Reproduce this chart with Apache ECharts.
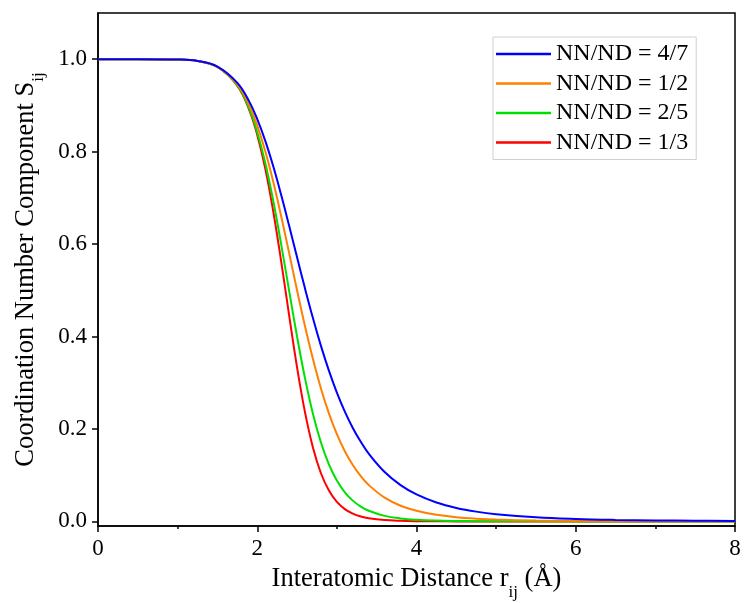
<!DOCTYPE html>
<html>
<head>
<meta charset="utf-8">
<script src="https://cdn.jsdelivr.net/npm/echarts@6/dist/echarts.min.js"></script>
<style>html,body{margin:0;padding:0;background:#fff}#c{width:744px;height:603px}</style>
</head>
<body>
<div id="c"></div>
<script>
var rVals = [0, 0.5, 1.0, 1.25, 1.5, 1.75, 1.9, 2.0, 2.1, 2.2, 2.3, 2.4, 2.5, 2.6, 2.7, 2.8, 2.9, 3.0, 3.1, 3.2, 3.3, 3.4, 3.6, 3.8, 4.0, 4.25, 4.5, 4.75, 5.0, 5.5, 6.0, 6.5, 7.0, 7.5, 8.0];
var s47 = [1, 1, 0.9993, 0.9962, 0.9840, 0.9488, 0.9082, 0.8705, 0.8239, 0.7688, 0.7067, 0.6400, 0.5714, 0.5037, 0.4393, 0.3797, 0.3261, 0.2787, 0.2376, 0.2022, 0.1721, 0.1465, 0.1067, 0.0785, 0.0583, 0.0409, 0.0291, 0.0211, 0.0156, 0.0088, 0.0052, 0.0032, 0.0021, 0.0014, 0.0009];
var s12 = [1, 1, 0.9993, 0.9961, 0.9835, 0.9455, 0.8999, 0.8563, 0.8014, 0.7355, 0.6608, 0.5809, 0.5000, 0.4222, 0.3508, 0.2877, 0.2337, 0.1887, 0.1518, 0.1219, 0.0979, 0.0787, 0.0513, 0.0339, 0.0228, 0.0141, 0.0090, 0.0059, 0.0039, 0.0018, 0.0009, 0.0005, 0.0003, 0.0002, 0.0001];
var s25 = [1, 1, 0.9993, 0.9961, 0.9832, 0.9431, 0.8924, 0.8419, 0.7759, 0.6942, 0.6000, 0.4993, 0.4000, 0.3094, 0.2324, 0.1707, 0.1234, 0.0884, 0.0630, 0.0449, 0.0320, 0.0229, 0.0119, 0.0064, 0.0035, 0.0017, 0.0009, 0.0005, 0.0002, 0.0001, 0, 0, 0, 0, 0];
var s13 = [1, 1, 0.9993, 0.9961, 0.9832, 0.9425, 0.8899, 0.8362, 0.7638, 0.6716, 0.5629, 0.4461, 0.3333, 0.2358, 0.1593, 0.1041, 0.0666, 0.0420, 0.0264, 0.0166, 0.0105, 0.0067, 0.0028, 0.0012, 0.0005, 0.0002, 0, 0, 0, 0, 0, 0, 0, 0, 0];
var yTicks = [0, 0.2, 0.4, 0.6, 0.8, 1.0];
var seriesNames = ['NN/ND = 4/7', 'NN/ND = 1/2', 'NN/ND = 2/5', 'NN/ND = 1/3'];
var seriesColors = ['#0000FF', '#FF8000', '#00E000', '#FF0000'];

var FONT = '"Liberation Serif", "Times New Roman", serif';
function pairs(ys){ return rVals.map(function(r,i){ return [r, ys[i]]; }); }
var allY = [s47, s12, s25, s13];
var richName = {s: {fontFamily: FONT, fontSize: 26.5, color: '#000'}, sub: {fontFamily: FONT, fontSize: 17, color: '#000', verticalAlign: 'bottom', padding: [0,0,-8,0]}};
var chart = echarts.init(document.getElementById('c'), null, {renderer:'canvas'});
chart.setOption({
  animation: false,
  backgroundColor: '#fff',
  grid: {left: 98, right: 9, top: 13, bottom: 77, show: true, borderColor: '#000', borderWidth: 1.5, backgroundColor: 'transparent', containLabel: false, outerBoundsMode: 'none'},
  legend: {
    orient: 'vertical', left: 493, top: 37,
    padding: [5, 8, 5, 3], itemGap: 5.5,
    itemWidth: 55, itemHeight: 2.5, icon: 'rect',
    borderColor: '#d0d0d0', borderWidth: 1,
    textStyle: {fontFamily: FONT, fontSize: 24, color: '#000'},
    data: seriesNames
  },
  xAxis: {
    type: 'value', min: 0, max: 8, interval: 2,
    name: 'Interatomic Distance {s|r}{sub|ij}{s| (Å)}',
    nameLocation: 'middle', nameGap: 40,
    nameTextStyle: {fontFamily: FONT, fontSize: 26.5, color: '#000', rich: richName},
    axisLine: {show: true, onZero: false, lineStyle: {color: '#000', width: 1.5}},
    axisTick: {show: true, inside: false, length: 6, lineStyle: {color: '#000', width: 1.5}},
    minorTick: {show: true, splitNumber: 2, length: 3, lineStyle: {color: '#000', width: 1.5}},
    axisLabel: {fontFamily: FONT, fontSize: 23, color: '#000', margin: 11},
    splitLine: {show: false}
  },
  yAxis: {
    type: 'value', min: -0.01, max: 1.1,
    name: 'Coordination Number Component {s|S}{sub|ij}',
    nameLocation: 'middle', nameGap: 54,
    nameTextStyle: {fontFamily: FONT, fontSize: 26.5, color: '#000', rich: richName},
    axisLine: {show: true, onZero: false, lineStyle: {color: '#000', width: 1.5}},
    axisTick: {show: true, inside: false, length: 6, customValues: yTicks, lineStyle: {color: '#000', width: 1.5}},
    axisLabel: {fontFamily: FONT, fontSize: 23, color: '#000', margin: 11, customValues: yTicks,
      formatter: function(v){ return v.toFixed(1); }},
    splitLine: {show: false}
  },
  series: seriesNames.map(function(n, i){
    return {
      name: n, type: 'line', data: pairs(allY[i]), smooth: 0.4,
      symbol: 'none', showSymbol: false, z: 10 - i,
      lineStyle: {color: seriesColors[i], width: 2},
      itemStyle: {color: seriesColors[i]}
    };
  }).reverse()
});
</script>
</body>
</html>
